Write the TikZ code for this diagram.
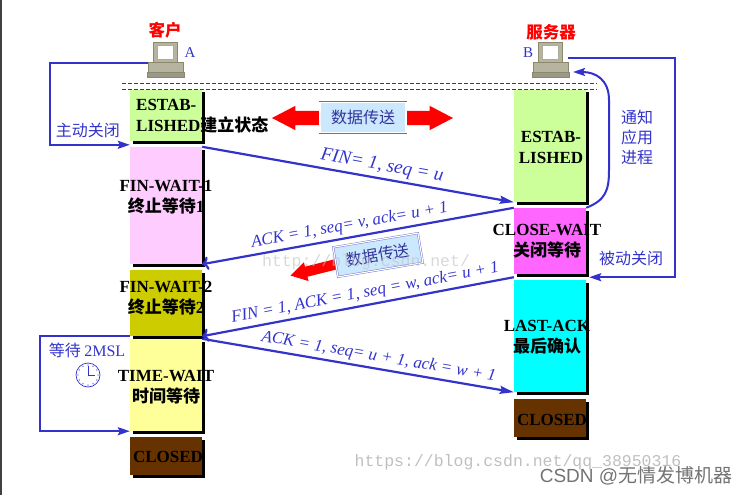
\documentclass[tikz,border=0pt]{standalone}
\usepackage{fontspec}
\setmainfont{Liberation Serif}
\setsansfont{Liberation Sans}
\setmonofont{Liberation Mono}
\newfontfamily\cjk{Noto Sans CJK SC}
\usetikzlibrary{arrows.meta,shapes.arrows,shadows}
\definecolor{lineblue}{HTML}{3333CC}
\definecolor{dashblue}{HTML}{333399}
\definecolor{estgreen}{HTML}{CCFF99}
\definecolor{fwpink}{HTML}{FFCCFF}
\definecolor{fwolive}{HTML}{CCCC00}
\definecolor{twyellow}{HTML}{FFFF99}
\definecolor{closedbrown}{HTML}{663300}
\definecolor{cwmagenta}{HTML}{FF66FF}
\definecolor{lacyan}{HTML}{00FFFF}
\definecolor{datafill}{HTML}{CCE8FF}
\definecolor{databorder}{HTML}{6666CC}
\definecolor{pcfill}{HTML}{B6B49E}
\definecolor{pcline}{HTML}{8A886F}

\begin{document}
\begin{tikzpicture}[x=1pt,y=-1pt,
  statebox/.style={minimum width=72pt,inner sep=0pt,
    drop shadow={shadow xshift=2.5pt,shadow yshift=-2.5pt,fill=black,opacity=1}},
  statetext/.style={font=\fontsize{17}{21}\selectfont\bfseries,align=center,inner sep=0pt},
  msg/.style={draw=lineblue,line width=2.2pt,arrows={-Stealth[length=14pt,width=8pt,inset=2pt]}},
  msglabel/.style={sloped,above=3pt,inner sep=0pt,text=lineblue,font=\fontsize{17}{20}\selectfont\itshape},
  loopline/.style={draw=lineblue,line width=2pt,-{Stealth[length=12pt,width=8pt,inset=2pt]}},
  bluecjk/.style={text=lineblue,font=\cjk\fontsize{16}{20}\selectfont,align=center,inner sep=0pt},
  databox/.style={draw=databorder,double=white,double distance=1.2pt,fill=datafill,
    minimum width=86pt,minimum height=30pt,inner sep=0pt,text=dashblue,
    font=\cjk\fontsize{16}{20}\selectfont},
  pcpart/.style={fill=pcfill,draw=pcline,line width=0.6pt}]
  \useasboundingbox (0,0) rectangle (745,495);
  \draw[black!75,line width=1.5pt] (0.75,0) -- (0.75,495);

  \foreach \px in {148,533} {
    \draw[pcpart] (\px+5,42) rectangle (\px+29,62);
    \draw[fill=white,draw=pcline!70,line width=0.5pt] (\px+9,45) rectangle (\px+25,59);
    \draw[pcpart] (\px,62) rectangle (\px+35,72);
    \draw[pcpart,fill=pcfill!85!black] (\px-1,72) rectangle (\px+36,77);
  }
  \coordinate (pcA) at (148,63);
  \coordinate (pcB) at (568,58);
  \coordinate (pcBfoot) at (573,72);
  \node[text=red,font=\cjk\bfseries\fontsize{16.5}{20}\selectfont] (clientName) at (165,30) {客户};
  \node[text=red,font=\cjk\bfseries\fontsize{16.5}{20}\selectfont] (serverName) at (551,32) {服务器};
  \node[text=lineblue,font=\fontsize{15}{18}\selectfont] (clientTag) at (190,53) {A};
  \node[text=lineblue,font=\fontsize{15}{18}\selectfont] (serverTag) at (528,53) {B};

  \draw[dashblue,line width=0.8pt,dash pattern=on 4pt off 2pt] (122,83) -- (597,83);
  \draw[dashblue,line width=0.8pt,dash pattern=on 4pt off 2pt] (122,89) -- (597,89);

  \node[statebox,fill=estgreen,minimum height=51pt] (cEst) at (166,115.5) {};
  \node[statebox,fill=fwpink,minimum height=117pt] (cFw1) at (166,205.5) {};
  \node[statebox,fill=fwolive,minimum height=66pt] (cFw2) at (166,303) {};
  \node[statebox,fill=twyellow,minimum height=92pt] (cTw) at (166,385) {};
  \node[statebox,fill=closedbrown,minimum height=38pt] (cClosed) at (166,456) {};
  \node[statebox,fill=estgreen,minimum height=112pt] (sEst) at (550,146) {};
  \node[statebox,fill=cwmagenta,minimum height=66pt] (sCw) at (550,241) {};
  \node[statebox,fill=lacyan,minimum height=112pt] (sLa) at (550,336) {};
  \node[statebox,fill=closedbrown,minimum height=38pt] (sClosed) at (550,418) {};

  \node[statetext,anchor=west,align=left] (cEstText) at (136,116) {ESTAB-\\LISHED{\cjk 建立状态}};
  \node[statetext] (cFw1Text) at (166,197) {FIN-WAIT-1\\{\cjk 终止等待}1};
  \node[statetext] (cFw2Text) at (166,298) {FIN-WAIT-2\\{\cjk 终止等待}2};
  \node[statetext] (cTwText) at (166,387) {TIME-WAIT\\{\cjk 时间等待}};
  \node[statetext] (cClosedText) at (168,457) {CLOSED};
  \node[statetext] (sEstText) at (551,147) {ESTAB-\\LISHED};
  \node[statetext] (sCwText) at (547,241) {CLOSE-WAIT\\{\cjk 关闭等待}};
  \node[statetext] (sLaText) at (547,337) {LAST-ACK\\{\cjk 最后确认}};
  \node[statetext] (sClosedText) at (552,420) {CLOSED};

  \node[double arrow,fill=red,minimum height=181pt,minimum width=24pt,inner xsep=0pt,inner ysep=7pt,
    double arrow head extend=5pt,double arrow tip angle=55] (dataTopArrow) at (362.5,118) {};
  \node[databox] (dataTop) at (363,117.5) {数据传送};
  \node[single arrow,fill=red,rotate=194,minimum height=54pt,minimum width=19pt,inner xsep=0pt,inner ysep=5pt,
    single arrow head extend=4.5pt,single arrow tip angle=62] (dataMidArrow) at (321,268) {};
  \node[databox,rotate=9.5] (dataMid) at (378,255) {数据传送};

  \draw[msg] (cFw1.north east) -- node[msglabel,pos=0.57,font=\fontsize{19}{22}\selectfont\itshape] {FIN= 1, seq = u} (sEst.south west);
  \draw[msg,<-] (cFw1.south east) -- node[msglabel,pos=0.48] {ACK = 1, seq= v, ack= u + 1} (sCw.north west);
  \draw[msg,<-] (cFw2.south east) -- node[msglabel,pos=0.53] {FIN = 1, ACK = 1, seq = w, ack= u + 1} ([yshift=-3pt]sCw.south west);
  \draw[msg] (cTw.north east) -- node[msglabel,pos=0.56] {ACK = 1, seq= u + 1, ack = w + 1} (sLa.south west);

  \draw[loopline] (pcA) -- ++(-98,0) |- ([yshift=2pt]cFw1.north west);
  \node[bluecjk] (activeText) at (88,130) {主动关闭};
  \draw[loopline] (pcB) -- ++(107,0) |- ([xshift=3pt,yshift=-3pt]sCw.south east);
  \node[bluecjk] (passiveText) at (631,258) {被动关闭};
  \draw[loopline] (sCw.north east) .. controls (606,200) and (609,190) .. (609,170)
    -- (609,100) .. controls (609,80) and (596,72) .. (pcBfoot);
  \node[bluecjk] (notifyText) at (637,137) {通知\\应用\\进程};
  \draw[loopline] (cFw2.south west) -- ++(-90,0) |- (cTw.south west);
  \node[bluecjk] (waitText) at (87,350) {等待 {\rmfamily 2MSL}};
  \node[circle,draw=lineblue,line width=0.7pt,minimum size=24pt,inner sep=0pt] (clock) at (88,375) {};
  \foreach \a in {0,30,...,330}
    \fill[lineblue] (clock.center) ++(\a:10) circle (0.6pt);
  \draw[lineblue,line width=0.9pt] (clock.center) -- ++(0,-9);
  \draw[lineblue,line width=0.9pt] (clock.center) -- ++(7,0);

  \node[text=black!25,opacity=0.6,font=\ttfamily\fontsize{16.5}{18}\selectfont] (wmMid) at (366,262) {http://blog.csdn.net/};
  \node[text=black!25,font=\ttfamily\fontsize{16.5}{18}\selectfont] (wmBottom) at (518,462) {https://blog.csdn.net/qq\_38950316};
  \node[text=black!55,font=\sffamily\fontsize{19}{22}\selectfont] (wmCsdn) at (636,476) {CSDN @{\cjk 无情发博机器}};
\end{tikzpicture}
\end{document}
